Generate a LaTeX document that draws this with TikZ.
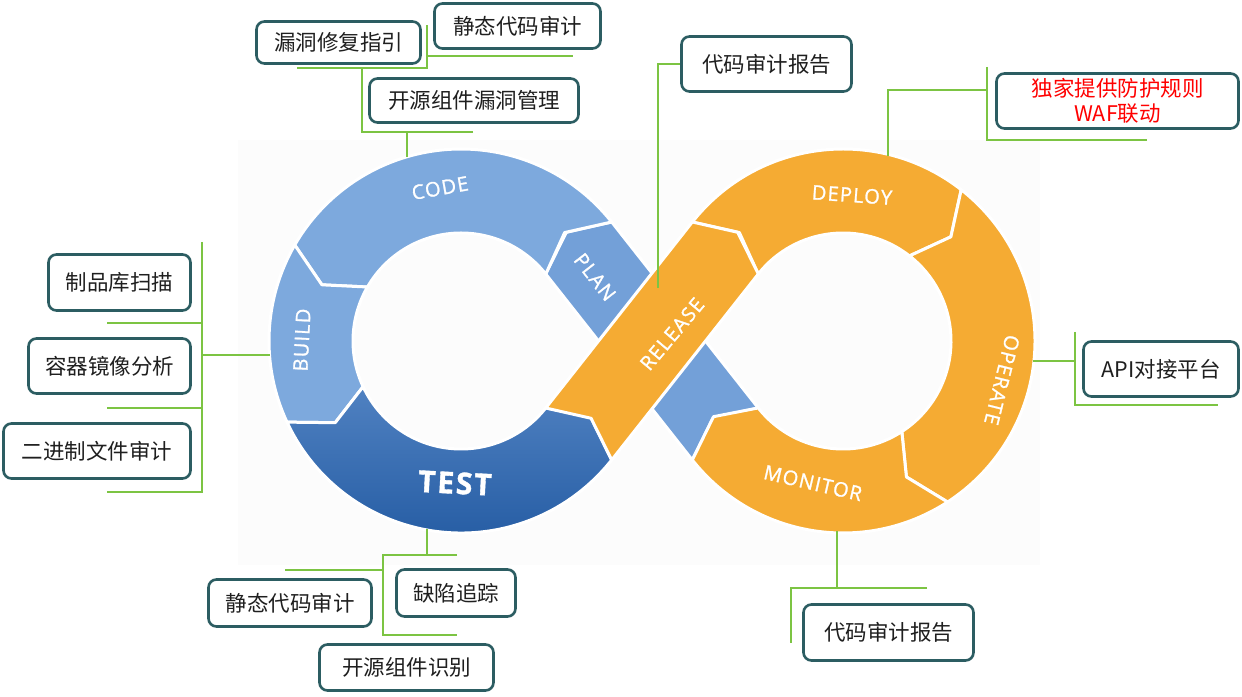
\documentclass[tikz,border=0pt]{standalone}
\usepackage{fontspec}
\newfontfamily\cjk{Noto Sans CJK SC}
\newfontfamily\ringfont[LetterSpace=6, FakeBold=1.2]{Open Sans}
\usetikzlibrary{calc}
\definecolor{lblue}{HTML}{7DA9DD}
\definecolor{pblue}{HTML}{73A0D8}
\definecolor{dblue}{HTML}{2462B2}
\definecolor{orng}{HTML}{F5AB33}
\definecolor{boxteal}{HTML}{2C5D62}
\definecolor{lgreen}{HTML}{7CC443}
\tikzset{
  seg/.style={draw=white, line width=3pt, line join=round},
  callout/.style={draw=boxteal, line width=2.6pt, rounded corners=8pt, fill=white, inner sep=0pt,
    font=\cjk\fontsize{21.5}{26}\selectfont, text=black!88},
  link/.style={draw=lgreen, line width=1.8pt},
  ringlabel/.style={text=white, font=\ringfont\fontsize{20}{24}\selectfont, inner sep=0pt},
}
% #1 centre, #2 start angle, #3 end angle, #4 tip angle, #5 notch angle, #6 style
\newcommand\rseg[6]{%
  \path[#6] ([shift={(#1)}]#2:192pt) arc[start angle=#2,end angle=#3,radius=192pt]
    -- ([shift={(#1)}]#4:150pt) -- ([shift={(#1)}]#3:108pt)
    arc[start angle=#3,end angle=#2,radius=108pt]
    -- ([shift={(#1)}]#5:150pt) -- cycle;}
\begin{document}
\begin{tikzpicture}[x=1pt,y=1pt]
\useasboundingbox (0,0) rectangle (1242,696);
\fill[white] (0,0) rectangle (1242,696);
\fill[black!1.2] (238,131) rectangle (1040,556);
\coordinate (L) at (461,355);
\coordinate (R) at (843,355);
% blue band (PLAN) under the orange one
\path[seg, fill=pblue] (611.7,474) -- (566.3,463.7) -- (545.7,422) -- (692.3,236)
  -- (712.9,277.7) -- (758.3,288) -- cycle;
% left loop
\rseg{L}{38.3}{150}{158}{46.3}{seg,fill=lblue}
\rseg{L}{150}{205}{213}{158}{seg,fill=lblue}
\rseg{L}{205}{321.7}{329.7}{213}{seg,top color=dblue!80!white,bottom color=dblue!90!black}
% right loop
\rseg{R}{141.7}{52}{44}{133.7}{seg,fill=orng}
\rseg{R}{52}{-57}{-65}{44}{seg,fill=orng}
\rseg{R}{-57}{-141.7}{-149.7}{-65}{seg,fill=orng}
% release band
\path[seg, fill=orng] (611.7,236) -- (591.1,277.7) -- (545.7,288) -- (692.3,474)
  -- (737.7,463.7) -- (758.3,422) -- cycle;

% ring labels
\node[ringlabel, rotate=10] (tcode) at (440,508) {CODE};
\node[ringlabel, rotate=-52] (tplan) at (595,419) {PLAN};
\node[ringlabel, rotate=87] (tbuild) at (302,356) {BUILD};
\node[ringlabel, font=\ringfont\bfseries\fontsize{30}{34}\selectfont, rotate=-3] (ttest) at (455,213) {TEST};
\node[ringlabel, rotate=50] (trel) at (672,362) {RELEASE};
\node[ringlabel, rotate=-4] (tdep) at (852,501) {DEPLOY};
\node[ringlabel, rotate=-104] (toper) at (1002,316) {OPERATE};
\node[ringlabel, rotate=-13] (tmon) at (813,213) {MONITOR};

% connector points
\coordinate (t0) at (407,539);  \coordinate (t1) at (407,564);
\coordinate (t2) at (362,564);  \coordinate (t3) at (473,564);
\coordinate (t4) at (362,628);  \coordinate (t5) at (297,628);
\coordinate (t6) at (427,628);  \coordinate (t7) at (427,671);
\coordinate (t8) at (427,640);  \coordinate (t9) at (573,640);
\draw[link] (t0) -- (t1);
\draw[link] (t3) -- (t2) -- (t4);
\draw[link] (t5) -- (t6) -- (t7);
\draw[link] (t8) -- (t9);

\coordinate (r0) at (658,408); \coordinate (r1) at (658,632); \coordinate (r2) at (681,632);
\draw[link] (r0) -- (r1) -- (r2);

\coordinate (d0) at (888,540); \coordinate (d1) at (888,606); \coordinate (d2) at (987,606);
\coordinate (d3) at (987,629); \coordinate (d4) at (987,556); \coordinate (d5) at (1147,556);
\draw[link] (d0) -- (d1) -- (d2);
\draw[link] (d3) -- (d4) -- (d5);

\coordinate (o0) at (1033,335); \coordinate (o1) at (1075,335);
\coordinate (o2) at (1075,364); \coordinate (o3) at (1075,291); \coordinate (o4) at (1218,291);
\draw[link] (o0) -- (o1);
\draw[link] (o2) -- (o3) -- (o4);

\coordinate (m0) at (837,165); \coordinate (m1) at (837,108);
\coordinate (m2) at (791,108); \coordinate (m3) at (927,108); \coordinate (m4) at (791,53);
\draw[link] (m0) -- (m1);
\draw[link] (m3) -- (m2) -- (m4);

\coordinate (l0) at (202,454); \coordinate (l1) at (202,204);
\coordinate (l2) at (107,373); \coordinate (l3) at (202,373);
\coordinate (l4) at (107,288); \coordinate (l5) at (202,288);
\coordinate (l6) at (107,204);
\coordinate (l7) at (202,341); \coordinate (l8) at (270,341);
\draw[link] (l0) -- (l1) -- (l6);
\draw[link] (l2) -- (l3);
\draw[link] (l4) -- (l5);
\draw[link] (l7) -- (l8);

\coordinate (s0) at (427,167); \coordinate (s1) at (427,141);
\coordinate (s2) at (383,141); \coordinate (s3) at (457,141);
\coordinate (s4) at (383,61);  \coordinate (s5) at (457,61);
\coordinate (s6) at (285,126); \coordinate (s7) at (383,126);
\draw[link] (s0) -- (s1);
\draw[link] (s3) -- (s2) -- (s4) -- (s5);
\draw[link] (s6) -- (s7);

% callout boxes
\node[callout, minimum width=164, minimum height=42] (b1) at (338.5,653.5) {漏洞修复指引};
\node[callout, minimum width=166, minimum height=45] (b2) at (517.5,670) {静态代码审计};
\node[callout, minimum width=209, minimum height=44] (b3) at (474,595.5) {开源组件漏洞管理};
\node[callout, minimum width=170, minimum height=55] (b4) at (766.5,632) {代码审计报告};
\node[callout, minimum width=242, minimum height=55, align=center, text=red,
  font=\cjk\fontsize{21.5}{25}\selectfont] (b5) at (1117.5,595) {独家提供防护规则\\WAF联动};
\node[callout, minimum width=155, minimum height=55] (b6) at (1161,327) {API对接平台};
\node[callout, minimum width=170, minimum height=56] (b7) at (888.5,63.5) {代码审计报告};
\node[callout, minimum width=142, minimum height=56] (b8) at (119.5,413.5) {制品库扫描};
\node[callout, minimum width=162, minimum height=55] (b9) at (109.5,330) {容器镜像分析};
\node[callout, minimum width=187, minimum height=55] (b10) at (97,245) {二进制文件审计};
\node[callout, minimum width=119, minimum height=47] (b11) at (456,103) {缺陷追踪};
\node[callout, minimum width=163, minimum height=47] (b12) at (290,93) {静态代码审计};
\node[callout, minimum width=174, minimum height=46] (b13) at (406.5,28.5) {开源组件识别};
\end{tikzpicture}
\end{document}
